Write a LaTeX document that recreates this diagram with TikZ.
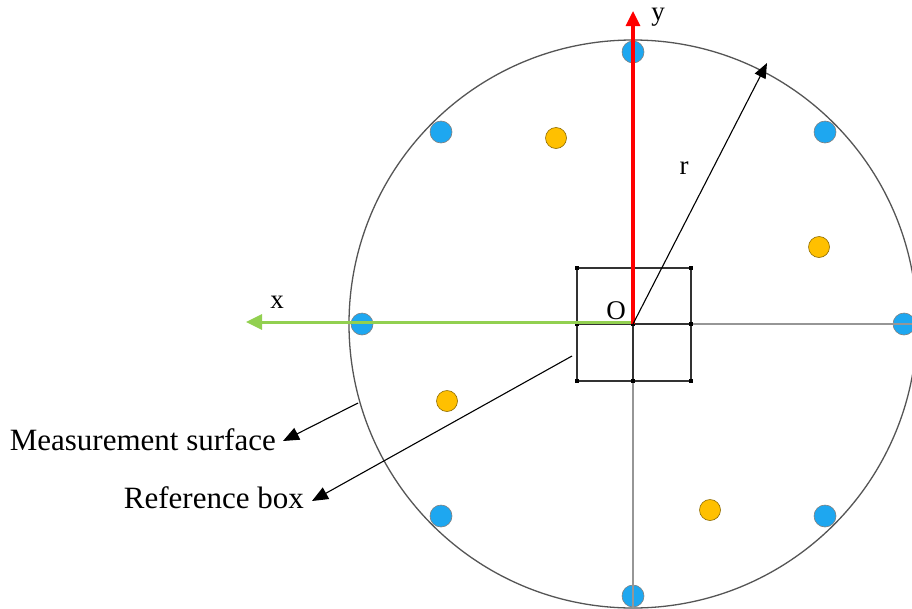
\documentclass[tikz,border=0pt]{standalone}
\usepackage{fontspec}
\setmainfont{Liberation Serif}
\usetikzlibrary{arrows.meta}
\definecolor{dotblue}{RGB}{30,167,240}
\definecolor{dotyellow}{RGB}{255,192,0}
\definecolor{axgreen}{RGB}{146,208,80}
\definecolor{circgray}{RGB}{85,85,85}
\definecolor{axgray}{RGB}{150,150,150}
\begin{document}
\begin{tikzpicture}[x=1pt,y=-1pt,
  bluedot/.style={circle,fill=dotblue,draw=gray,line width=0.6pt,minimum size=22pt,inner sep=0pt},
  yellowdot/.style={circle,fill=dotyellow,draw=black!45!dotyellow,line width=0.6pt,minimum size=21pt,inner sep=0pt},
  boxline/.style={draw=black!80,line width=1.7pt},
  grayline/.style={draw=axgray,line width=1.1pt},
  gridpt/.style={rectangle,fill=black,inner sep=0pt,minimum size=4pt},
  lab/.style={font=\fontsize{27}{30}\selectfont,inner sep=0pt},
  annot/.style={font=\fontsize{31}{36}\selectfont,inner sep=0pt,anchor=east},
  pointer/.style={draw=black,line width=1.1pt,-{Triangle[length=16pt,width=13pt]}}
]
\fill[white] (0,0) rectangle (912,608);
\useasboundingbox (0,0) rectangle (912,608);
\begin{scope}
\clip (0,0) rectangle (912,608);
\coordinate (O) at (633,324);
% measurement surface
\draw[circgray,line width=1.3pt] (O) circle[radius=284];
% microphone positions
\node[bluedot] (b1) at (633,52) {};
\node[bluedot] (b2) at (825,132) {};
\node[bluedot] (b3) at (904,324) {};
\node[bluedot] (b4) at (825,516) {};
\node[bluedot] (b5) at (633,596) {};
\node[bluedot] (b6) at (441,516) {};
\node[bluedot] (b7) at (362,324) {};
\node[bluedot] (b8) at (441,132) {};
\node[yellowdot] (y1) at (819,247) {};
\node[yellowdot] (y2) at (556,138) {};
\node[yellowdot] (y3) at (447,401) {};
\node[yellowdot] (y4) at (710,510) {};
% axes outside the box
\coordinate (xr) at (912,324);
\coordinate (yb) at (633,608);
\coordinate (bxr) at (691,324);
\coordinate (byb) at (633,381);
\draw[grayline] (bxr) -- (xr);
\draw[grayline] (byb) -- (yb);
% reference box
\coordinate (c1) at (577,268);
\coordinate (c2) at (691,268);
\coordinate (c3) at (691,381);
\coordinate (c4) at (577,381);
\coordinate (bt) at (633,268);
\coordinate (bl) at (577,324);
\draw[boxline] (c1) -- (c2) -- (c3) -- (c4) -- cycle;
\draw[boxline] (bt) -- (byb);
\draw[boxline] (bl) -- (bxr);
\foreach \p in {c1,c2,c3,c4,bt,bl,bxr,byb,O} \node[gridpt] at (\p) {};
% x and y axes
\coordinate (xt) at (246,322);
\coordinate (yt) at (633,11);
\draw[axgreen,line width=3pt,-{Triangle[length=16pt,width=15pt]}] (633,322) -- (xt);
\draw[red,line width=3.2pt,-{Triangle[length=15pt,width=14pt]}] (O) -- (yt);
\node[lab] (xl) at (277,302) {x};
\node[lab] (yl) at (658,17) {y};
\node[lab] (ol) at (616,311) {O};
% radius
\coordinate (rt) at (767,63);
\draw[black,line width=1.1pt,-{Triangle[length=15pt,width=12pt]}] (O) -- (rt);
\node[lab] (rl) at (684,168) {r};
% annotations
\node[annot] (ms) at (276,440) {Measurement surface};
\node[annot] (rb) at (304,498) {Reference box};
\coordinate (msp) at (358,403);
\coordinate (rbp) at (572,356);
\draw[pointer] (msp) -- (283,441);
\draw[pointer] (rbp) -- (312,501);
\end{scope}
\end{tikzpicture}
\end{document}
